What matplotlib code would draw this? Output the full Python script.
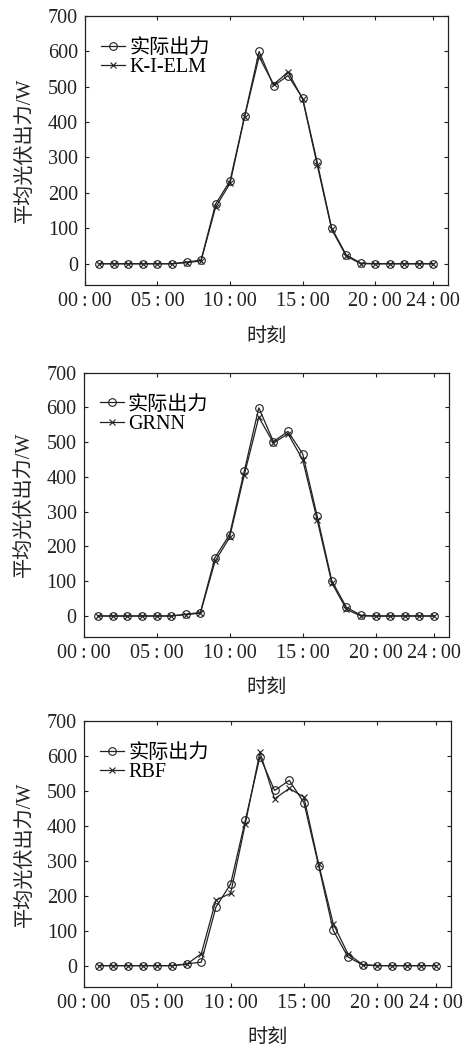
import numpy as np
import matplotlib
matplotlib.use("Agg")
import matplotlib.pyplot as plt

plt.rcParams['font.family'] = ['Liberation Serif', 'Noto Sans CJK SC', 'DejaVu Sans']
plt.rcParams['axes.unicode_minus'] = False

hours = np.arange(1, 25)
# actual output (W)
actual = [0, 0, 0, 0, 0, 0, 5, 10, 168, 234, 416, 599, 502, 531, 467, 287, 101, 25, 2, 0, 0, 0, 0, 0]
# model forecasts
kielm = [0, 0, 0, 0, 0, 0, 3, 8, 159, 227, 414, 584, 506, 541, 465, 280, 97, 22, 0, 0, 0, 0, 0, 0]
grnn = [0, 0, 0, 0, 0, 0, 4, 8, 157, 226, 405, 572, 498, 524, 450, 276, 95, 19, 0, 0, 0, 0, 0, 0]
rbf = [0, 0, 0, 0, 0, 0, 4, 34, 188, 207, 406, 612, 478, 508, 483, 292, 120, 34, 3, 0, 0, 0, 0, 0]

models = [("K-I-ELM", kielm), ("GRNN", grnn), ("RBF", rbf)]
xticks = [0, 5, 10, 15, 20, 24]
xticklabels = ['00\u2009:\u200900', '05\u2009:\u200900', '10\u2009:\u200900',
               '15\u2009:\u200900', '20\u2009:\u200900', '24\u2009:\u200900']
yticks = [0, 100, 200, 300, 400, 500, 600, 700]

fig = plt.figure(figsize=(4.64, 10.44), dpi=100)
# axes boxes [left, bottom, width, height]
boxes = [[0.183, 0.727, 0.782, 0.258],
         [0.180, 0.390, 0.787, 0.253],
         [0.181, 0.055, 0.790, 0.254]]

col = '#222222'
for (name, pred), box in zip(models, boxes):
    ax = fig.add_axes(box)
    ax.plot(hours, actual, '-', color=col, lw=0.9, marker='o', ms=5.5,
            mfc='none', mec=col, mew=0.8, label='实际出力')
    ax.plot(hours, pred, '-', color=col, lw=0.9, marker='x', ms=4,
            mec=col, mew=0.8, label=name)
    ax.set_xlim(0, 25)
    ax.set_ylim(-60, 700)
    ax.set_xticks(xticks)
    ax.set_xticklabels(xticklabels)
    ax.set_yticks(yticks)
    ax.tick_params(direction='in', top=True, right=True, length=3,
                   labelsize=14.5, colors=col, pad=5)
    for s in ax.spines.values():
        s.set_color(col)
        s.set_linewidth(0.9)
    ax.set_ylabel('平均光伏出力/W', fontsize=14.5, color=col, labelpad=9)
    ax.set_xlabel('时刻', fontsize=14.5, color=col, labelpad=12)
    ax.legend(loc='upper left', frameon=False, fontsize=14.5, handlelength=1.2,
              handletextpad=0.2, borderaxespad=0.4, labelspacing=0.0,
              bbox_to_anchor=(0.0, 0.975))

plt.savefig('out.png', dpi=100)
